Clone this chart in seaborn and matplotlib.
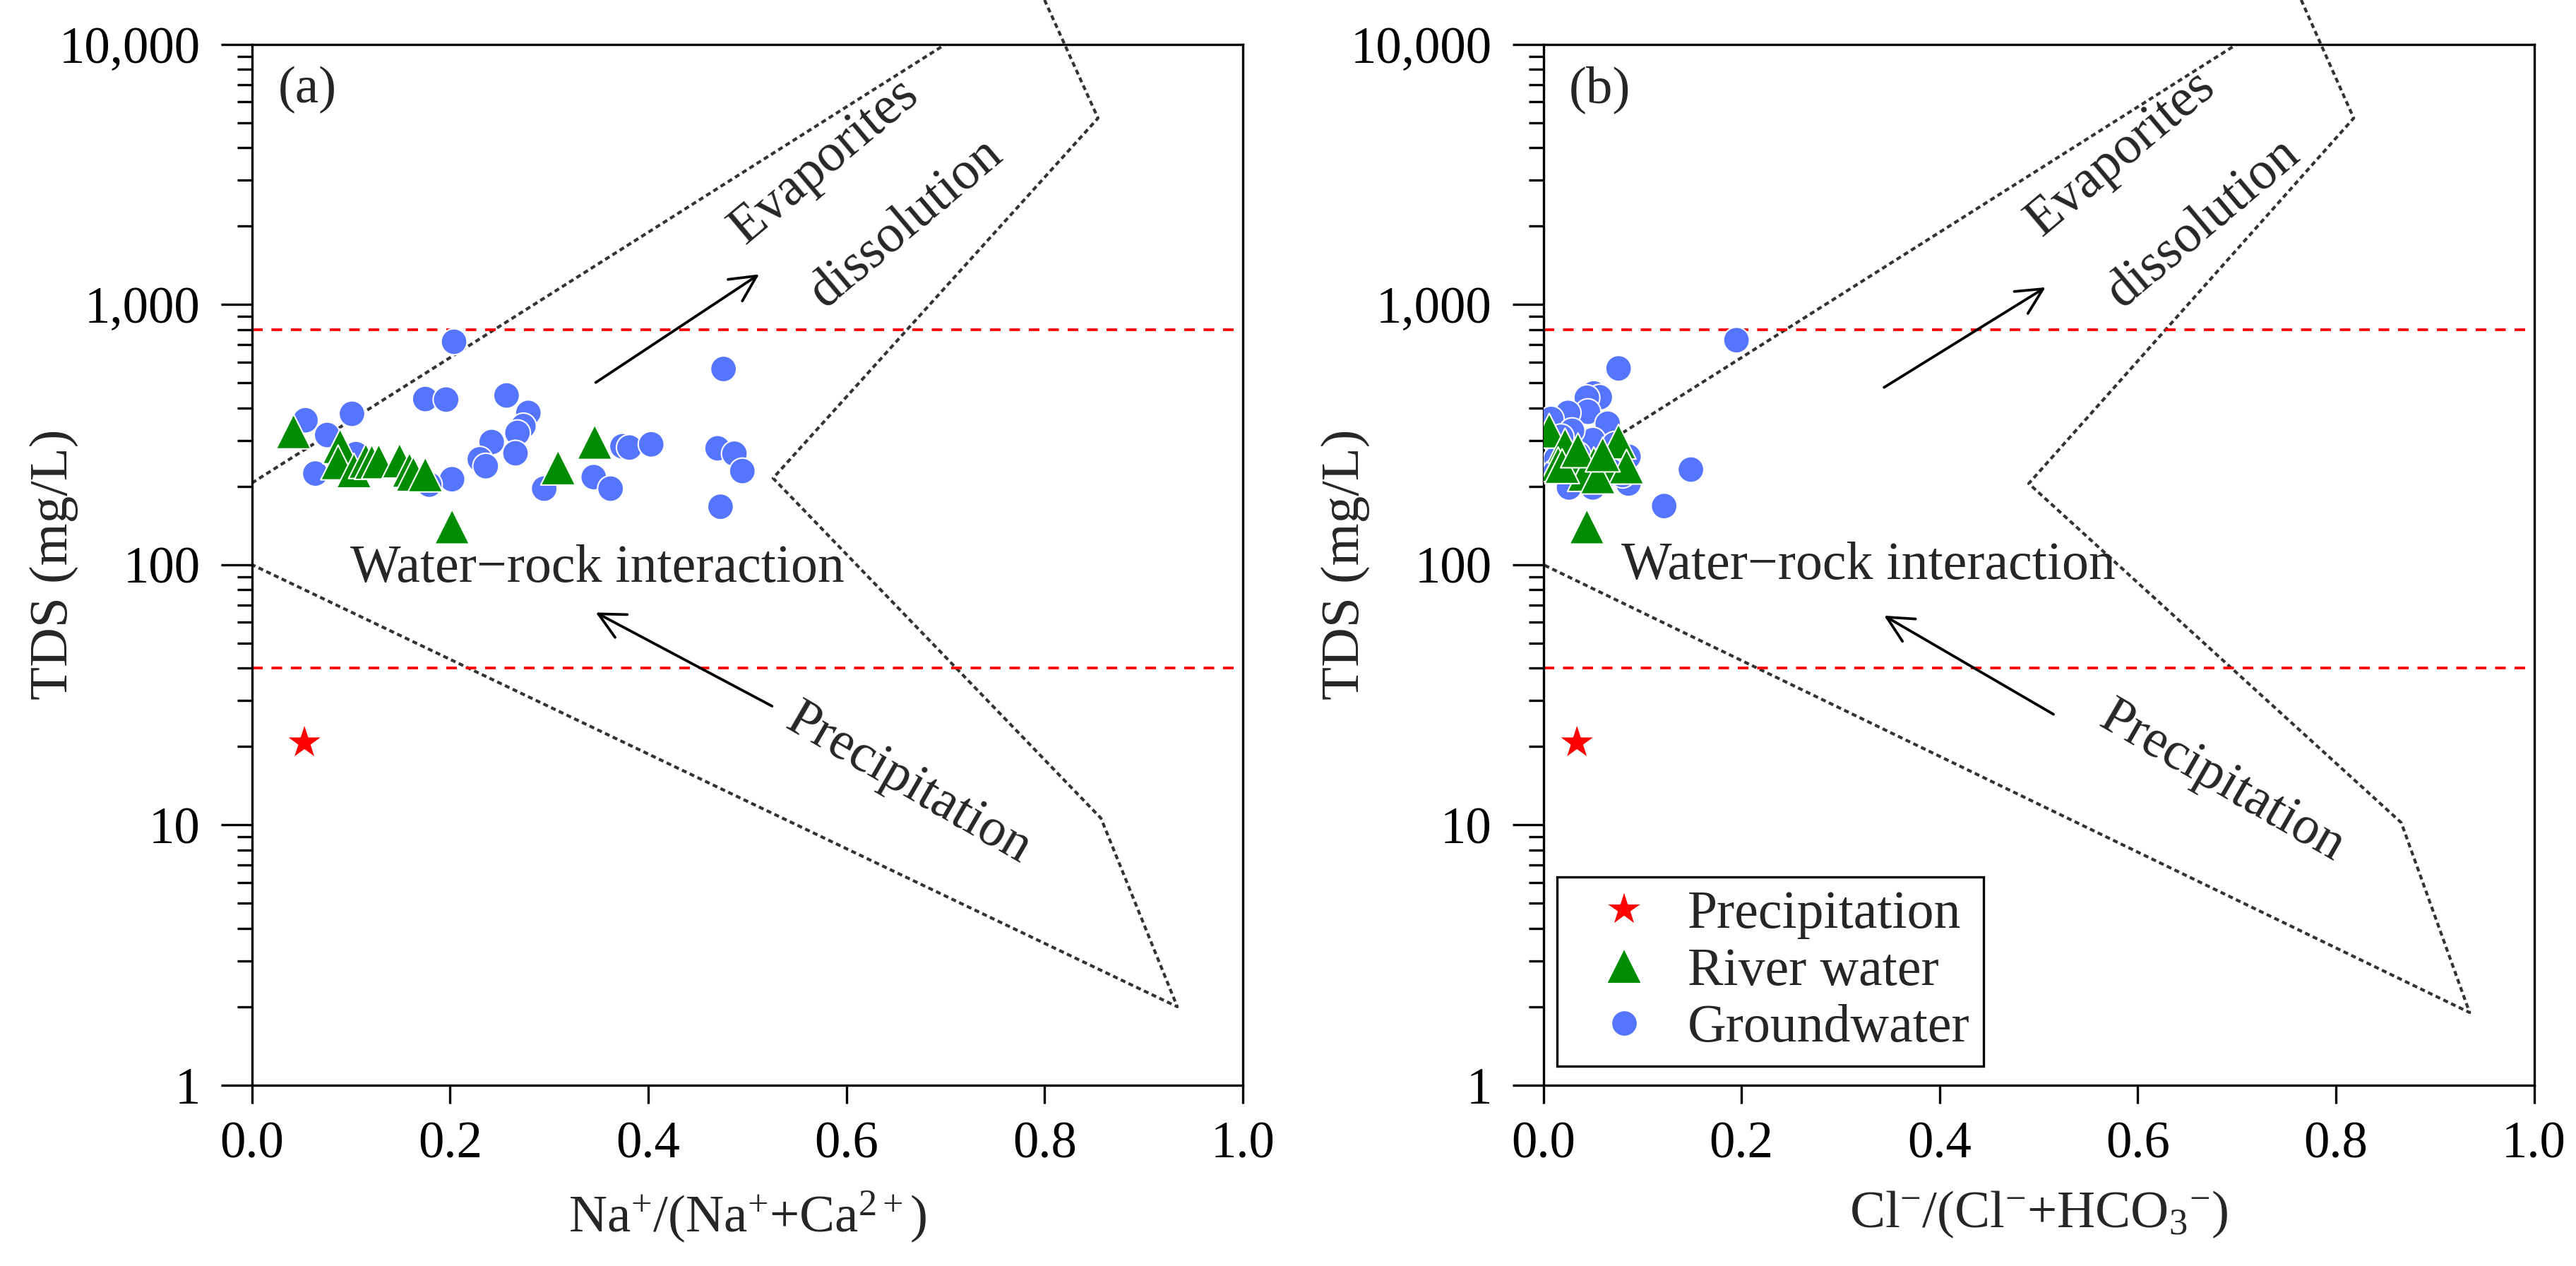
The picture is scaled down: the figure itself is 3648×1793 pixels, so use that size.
import numpy as np
import pandas as pd
import matplotlib
matplotlib.use("Agg")
import matplotlib.pyplot as plt
import seaborn as sns
from matplotlib.lines import Line2D
from matplotlib.ticker import FixedLocator, FuncFormatter, LogLocator, NullFormatter

# ---------------- data ----------------
# Panel (a): Na+/(Na+ + Ca2+) vs TDS
a_gw_x = [0.204, 0.054, 0.076, 0.101, 0.064, 0.105, 0.175, 0.196, 0.257, 0.279,
          0.274, 0.268, 0.242, 0.266, 0.230, 0.236, 0.202, 0.179, 0.295, 0.476,
          0.345, 0.362, 0.374, 0.381, 0.403, 0.470, 0.487, 0.495, 0.473]
a_gw_y = [719, 359, 315, 380, 224, 266, 433, 431, 447, 383,
          341, 321, 296, 268, 254, 239, 213, 203, 196, 565,
          217, 196, 285, 282, 290, 280, 267, 229, 167]
a_rv_x = [0.042, 0.089, 0.087, 0.103, 0.115, 0.121, 0.128, 0.149, 0.159, 0.163,
          0.175, 0.202, 0.346, 0.309]
a_rv_y = [325, 285, 247, 230, 250, 248, 249, 251, 231, 223,
          222, 140, 296, 236]
a_pr_x = [0.053]
a_pr_y = [20.7]

# Panel (b): Cl-/(Cl- + HCO3-) vs TDS
b_gw_x = [0.195, 0.076, 0.051, 0.057, 0.044, 0.045, 0.025, 0.008, 0.065, 0.050,
          0.029, 0.086, 0.014, 0.013, 0.012, 0.026, 0.050, 0.059, 0.086, 0.080,
          0.149, 0.122, 0.064, 0.018, 0.035, 0.040, 0.068, 0.072, 0.030]
b_gw_y = [729, 568, 455, 440, 438, 387, 383, 363, 348, 301,
          327, 260, 292, 255, 227, 198, 198, 213, 205, 221,
          232, 168, 260, 310, 265, 215, 230, 290, 245]
b_rv_x = [0.006, 0.022, 0.076, 0.032, 0.051, 0.065, 0.084, 0.042, 0.055, 0.015,
          0.044, 0.019, 0.035, 0.060]
b_rv_y = [327, 287, 297, 253, 243, 238, 238, 223, 218, 243,
          140, 239, 275, 265]
b_pr_x = [0.034]
b_pr_y = [20.7]

# Gibbs envelopes
a_env_upper_x = [0.0, 0.70]
a_env_upper_y = [206, 10000]
a_env_right_x = [0.80, 0.854, 0.526, 0.857, 0.934, 0.0]
a_env_right_y = [14800, 5200, 215, 10.6, 2.0, 100]

b_env_upper_x = [0.0, 0.70]
b_env_upper_y = [206, 10000]
b_env_right_x = [0.765, 0.818, 0.490, 0.866, 0.935, 0.0]
b_env_right_y = [14800, 5200, 205, 10.2, 1.9, 100]

# reference TDS lines
tds_lines = [800, 40]

groups = ["Precipitation", "River water", "Groundwater"]
x_labels = ["Na$^{+}$/(Na$^{+}$+Ca$^{2+}$)",
            "Cl$^{-}$/(Cl$^{-}$+HCO$_{3}$$^{-}$)"]
y_ticks = [1, 10, 100, 1000, 10000]
x_ticks = [0.0, 0.2, 0.4, 0.6, 0.8, 1.0]

# ---------------- style ----------------
sns.set_style("ticks")
plt.rcParams["font.family"] = ["Liberation Serif", "DejaVu Serif"]
plt.rcParams["mathtext.fontset"] = "custom"
plt.rcParams["mathtext.rm"] = "Liberation Serif"
plt.rcParams["mathtext.it"] = "Liberation Serif:italic"
plt.rcParams["mathtext.bf"] = "Liberation Serif:bold"
plt.rcParams["lines.scale_dashes"] = False
plt.rcParams["axes.unicode_minus"] = True

palette = {"Precipitation": "#FF0000", "River water": "#008C00", "Groundwater": "#5675FF"}
markers = {"Precipitation": "*", "River water": "^", "Groundwater": "o"}
sizes = {"Precipitation": 170, "River water": 140, "Groundwater": 78}

FS = 18.2


def build_df(gx, gy, rx, ry, px, py):
    return pd.DataFrame({
        "x": list(gx) + list(rx) + list(px),
        "y": list(gy) + list(ry) + list(py),
        "Type": ["Groundwater"] * len(gx) + ["River water"] * len(rx) + ["Precipitation"] * len(px),
    })


fig = plt.figure(figsize=(12.16, 5.977), dpi=300)
ax_a = fig.add_axes([0.0978, 0.1429, 0.3846, 0.8221])
ax_b = fig.add_axes([0.5991, 0.1429, 0.3846, 0.8221])

panels = [
    (ax_a, build_df(a_gw_x, a_gw_y, a_rv_x, a_rv_y, a_pr_x, a_pr_y), "(a)", x_labels[0],
     (a_env_upper_x, a_env_upper_y, a_env_right_x, a_env_right_y),
     dict(wr=(0.099, 86), evap=(0.578, 3550), diss=(0.660, 2050), prec=(0.663, 14.3),
          up=((0.347, 501), (0.512, 1306)), low=((0.525, 28.6), (0.347, 65.5)))),
    (ax_b, build_df(b_gw_x, b_gw_y, b_rv_x, b_rv_y, b_pr_x, b_pr_y), "(b)", x_labels[1],
     (b_env_upper_x, b_env_upper_y, b_env_right_x, b_env_right_y),
     dict(wr=(0.079, 88), evap=(0.583, 3800), diss=(0.666, 2050), prec=(0.685, 14.6),
          up=((0.344, 480), (0.507, 1164)), low=((0.515, 26.6), (0.344, 63.7)))),
]

for ax, df, tag, xl, env, ann in panels:
    ax.set_yscale("log")
    ax.set_xlim(0, 1)
    ax.set_ylim(1, 10000)

    # envelope
    ax.plot(env[0], env[1], color="#333333", lw=1.0, dashes=(1.7, 1.2), zorder=1)
    ax.plot(env[2], env[3], color="#333333", lw=1.0, dashes=(1.7, 1.2), zorder=1,
            clip_on=False)
    for v in tds_lines:
        ax.axhline(v, color="#FF0000", lw=0.9, dashes=(3.6, 3.0), zorder=1)

    sns.scatterplot(data=df, x="x", y="y", hue="Type", style="Type", size="Type",
                    hue_order=groups, style_order=groups, size_order=groups,
                    palette=palette, markers=markers, sizes=sizes,
                    edgecolor="white", linewidth=0.5, legend=False, ax=ax, zorder=3)

    # annotations
    ax.text(ann["wr"][0], ann["wr"][1], "Water\u2212rock interaction", fontsize=FS,
            ha="left", va="baseline")
    ax.text(ann["evap"][0], ann["evap"][1], "Evaporites", fontsize=FS, rotation=40,
            ha="center", va="center", rotation_mode="anchor")
    ax.text(ann["diss"][0], ann["diss"][1], "dissolution", fontsize=FS, rotation=40,
            ha="center", va="center", rotation_mode="anchor")
    ax.text(ann["prec"][0], ann["prec"][1], "Precipitation", fontsize=FS, rotation=-30,
            ha="center", va="center", rotation_mode="anchor")
    ax.annotate("", xy=ann["up"][1], xytext=ann["up"][0],
                arrowprops=dict(arrowstyle="->", lw=0.9, color="black",
                                mutation_scale=22, shrinkA=0, shrinkB=0))
    ax.annotate("", xy=ann["low"][1], xytext=ann["low"][0],
                arrowprops=dict(arrowstyle="->", lw=0.9, color="black",
                                mutation_scale=22, shrinkA=0, shrinkB=0))
    ax.text(0.026, 0.956, tag, transform=ax.transAxes, fontsize=18, ha="left", va="center")

    # axes
    ax.yaxis.set_major_locator(FixedLocator(y_ticks))
    ax.yaxis.set_major_formatter(FuncFormatter(lambda v, p: f"{int(round(v)):,}"))
    ax.yaxis.set_minor_locator(LogLocator(base=10, subs=np.arange(2, 10)))
    ax.yaxis.set_minor_formatter(NullFormatter())
    ax.xaxis.set_major_locator(FixedLocator(x_ticks))
    ax.xaxis.set_major_formatter(FuncFormatter(lambda v, p: f"{v:.1f}"))
    ax.tick_params(axis="y", which="major", direction="out", length=10.5, width=0.8,
                   pad=7, labelsize=17.5, colors="black")
    ax.tick_params(axis="y", which="minor", direction="out", length=5, width=0.8, colors="black")
    ax.tick_params(axis="x", which="major", direction="out", length=6.2, width=0.8,
                   pad=6, labelsize=17.5, colors="black")
    ax.tick_params(top=False, right=False, which="both")
    for s in ax.spines.values():
        s.set_visible(True)
        s.set_linewidth(0.8)
        s.set_color("black")
    ax.set_xlabel(xl, fontsize=18)
    ax.set_ylabel("TDS (mg/L)", fontsize=18.5)
    ax.yaxis.set_label_coords(-0.175, 0.5)
    ax.xaxis.set_label_coords(0.5, -0.10)
    ax.xaxis.label.set_va("top")

# legend in panel (b)
handles = [Line2D([], [], linestyle="none", marker=markers[g], markersize=np.sqrt(sizes[g]),
                  markerfacecolor=palette[g], markeredgecolor="white", markeredgewidth=0.5)
           for g in groups]
leg = ax_b.legend(handles, groups, loc="lower left", bbox_to_anchor=(0.0138, 0.018),
                  borderaxespad=0, fontsize=18.2, frameon=True, fancybox=False,
                  edgecolor="black", framealpha=1, borderpad=0.25, labelspacing=0.15,
                  handlelength=2.0, handletextpad=0.19)
leg.get_frame().set_linewidth(0.8)

fig.savefig("out.png", dpi=300)
